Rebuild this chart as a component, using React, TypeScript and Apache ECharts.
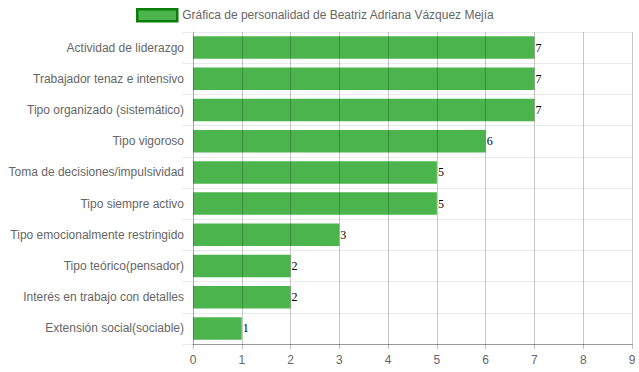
import React, { useEffect, useRef } from "react";
import * as echarts from "echarts";

const categories = [
  "Actividad de liderazgo",
  "Trabajador tenaz e intensivo",
  "Tipo organizado (sistemático)",
  "Tipo vigoroso",
  "Toma de decisiones/impulsividad",
  "Tipo siempre activo",
  "Tipo emocionalmente restringido",
  "Tipo teórico(pensador)",
  "Interés en trabajo con detalles",
  "Extensión social(sociable)",
];
const values = [7, 7, 7, 6, 5, 5, 3, 2, 2, 1];
const seriesName = "Gráfica de personalidad de Beatriz Adriana Vázquez Mejía";

export default function App() {
  const ref = useRef<HTMLDivElement>(null);
  useEffect(() => {
    document.body.style.margin = "0";
    const chart = echarts.init(ref.current!, null, { renderer: "svg" });
    chart.setOption({
      animation: false,
      textStyle: { fontFamily: "Liberation Sans, Arial, sans-serif" },
      legend: {
        top: 8,
        left: 136,
        padding: 0,
        itemWidth: 40,
        itemHeight: 12,
        itemGap: 6,
        icon: "rect",
        textStyle: { color: "#666", fontSize: 12, fontFamily: "Liberation Sans, Arial, sans-serif" },
        data: [
          {
            name: seriesName,
            itemStyle: { color: "#4cb44c", borderColor: "#0b7d0b", borderWidth: 2.5 },
          },
        ],
      },
      grid: { left: 193, right: 7, top: 32, bottom: 28 },
      xAxis: {
        type: "value",
        min: 0,
        max: 9,
        interval: 1,
        z: 10,
        axisLine: { show: true, lineStyle: { color: "#999", width: 1 } },
        axisTick: { show: true, length: 5, lineStyle: { color: "rgba(0,0,0,0.25)" } },
        axisLabel: { color: "#666", fontSize: 12, margin: 10 },
        splitLine: { show: true, lineStyle: { color: "rgba(0,0,0,0.22)", width: 1 } },
      },
      yAxis: {
        type: "category",
        data: categories,
        inverse: true,
        axisLine: { show: true, lineStyle: { color: "rgba(0,0,0,0.15)" } },
        axisTick: { show: true, length: 11, lineStyle: { color: "rgba(0,0,0,0.08)" } },
        axisLabel: { color: "#666", fontSize: 12, margin: 9 },
        splitLine: { show: true, lineStyle: { color: "rgba(0,0,0,0.08)", width: 1 } },
      },
      series: [
        {
          name: seriesName,
          type: "bar",
          data: values,
          barWidth: "72%",
          itemStyle: { color: "#4cb44c" },
          label: {
            show: true,
            position: "right",
            distance: 1,
            color: "#000",
            fontSize: 12,
            fontFamily: "Liberation Serif, Times New Roman, serif",
          },
        },
      ],
    });
    return () => chart.dispose();
  }, []);
  return <div ref={ref} style={{ width: 639, height: 372 }} />;
}
